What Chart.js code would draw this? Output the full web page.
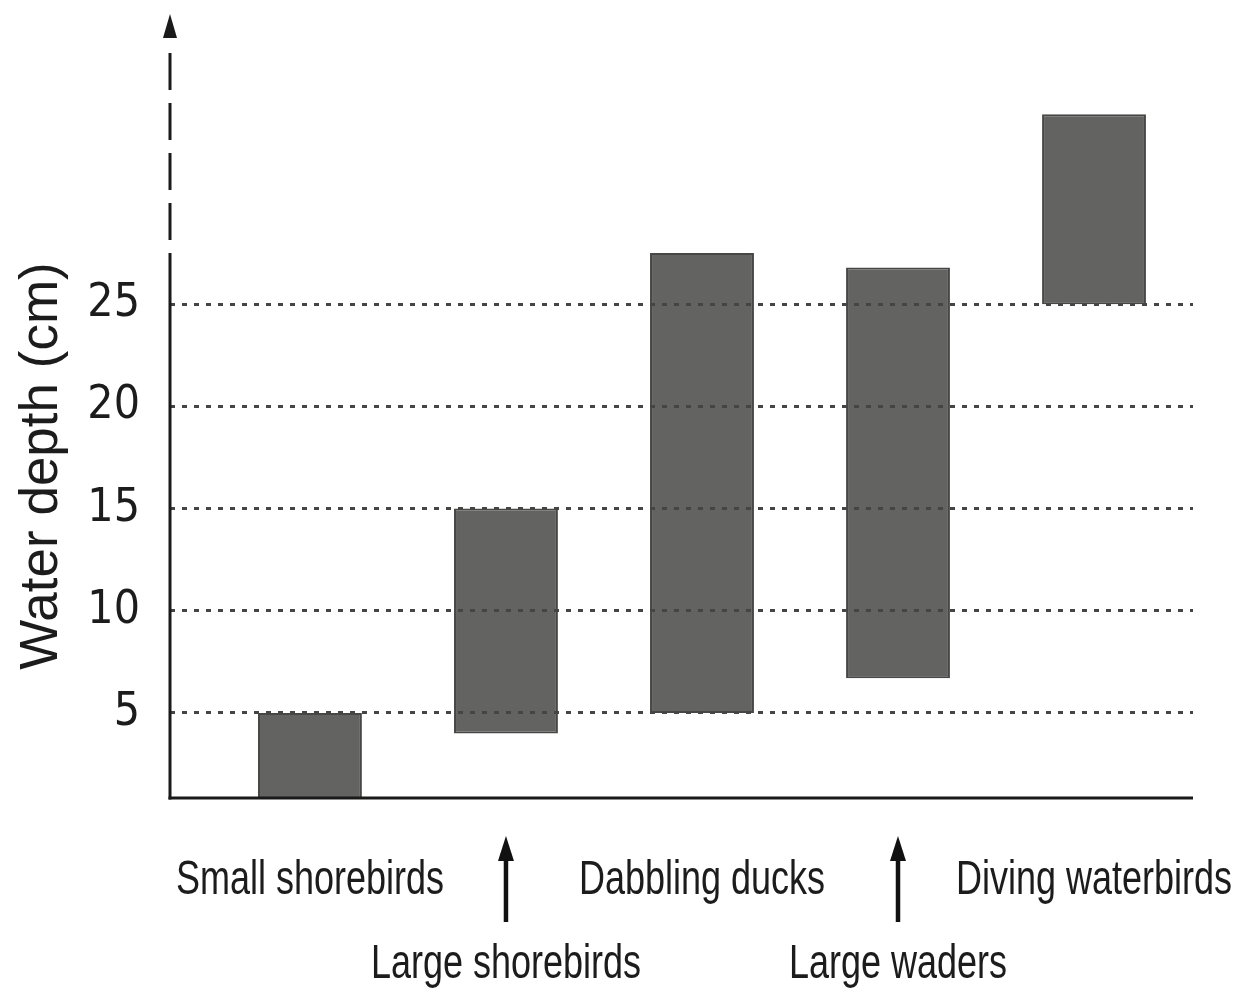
<!DOCTYPE html>
<html>
<head>
<meta charset="utf-8">
<title>Water depth used by waterbird groups</title>
<script src="https://cdn.jsdelivr.net/npm/chart.js@4.4.1/dist/chart.umd.min.js"></script>
<style>
  html, body { margin: 0; padding: 0; background: #fff; }
  #wrap { width: 1237px; height: 992px; position: relative; }
</style>
</head>
<body>
<div id="wrap"><canvas id="depthChart"></canvas></div>
<script>
// bird groups, left to right
const groups = ['Small shorebirds', 'Large shorebirds', 'Dabbling ducks', 'Large waders', 'Diving waterbirds'];
// depth range each group uses (cm)
const depthLow = [0, 4, 5, 6.7, 25];
const depthHigh = [5, 15, 27.5, 26.8, 34.3];
const yTicks = [5, 10, 15, 20, 25];
const yTitle = 'Water depth (cm)';
// axis goes dashed above this depth
const solidAxisTop = 27.5;

const sans = "'Liberation Sans', Arial, sans-serif";
const narrow = "'DejaVu Sans Condensed', 'Liberation Sans Narrow', sans-serif";
const ink = '#1c1c1c';

// axis lines, arrows, y title and the staggered group labels
const axisDecor = {
    id: 'axisDecor',
    afterDraw(chart) {
        const ctx = chart.ctx;
        const area = chart.chartArea;
        const xs = chart.scales.x;
        const ys = chart.scales.y;
        const ax = area.left;

        ctx.save();
        ctx.strokeStyle = '#1a1a1a';
        ctx.fillStyle = '#1a1a1a';
        ctx.lineWidth = 3;

        // x axis
        ctx.beginPath();
        ctx.moveTo(ax - 1.5, area.bottom);
        ctx.lineTo(area.right, area.bottom);
        ctx.stroke();

        // y axis, solid part then dashed
        const yBreak = ys.getPixelForValue(solidAxisTop);
        ctx.beginPath();
        ctx.moveTo(ax, area.bottom + 1.5);
        ctx.lineTo(ax, yBreak);
        ctx.stroke();

        ctx.setLineDash([37, 13]);
        ctx.beginPath();
        ctx.moveTo(ax, yBreak - 13);
        ctx.lineTo(ax, area.top + 38);
        ctx.stroke();
        ctx.setLineDash([]);

        ctx.beginPath();
        ctx.moveTo(ax, area.top);
        ctx.lineTo(ax - 7, area.top + 24);
        ctx.lineTo(ax + 7, area.top + 24);
        ctx.closePath();
        ctx.fill();

        // y title
        ctx.save();
        ctx.translate(42, area.bottom - 332);
        ctx.rotate(-Math.PI / 2);
        ctx.fillStyle = ink;
        ctx.font = '53px ' + sans;
        ctx.textAlign = 'center';
        ctx.textBaseline = 'middle';
        ctx.fillText(yTitle, 0, 0);
        ctx.restore();

        // group labels, every second one on a lower row with an arrow
        groups.forEach(function (name, i) {
            const px = xs.getPixelForValue(i);
            const low = i % 2 === 1;

            ctx.save();
            ctx.translate(px, area.bottom + (low ? 180 : 96));
            ctx.scale(0.75, 1);
            ctx.fillStyle = ink;
            ctx.font = '48px ' + sans;
            ctx.textAlign = 'center';
            ctx.textBaseline = 'alphabetic';
            ctx.fillText(name, 0, 0);
            ctx.restore();

            if (low) {
                ctx.strokeStyle = '#111';
                ctx.fillStyle = '#111';
                ctx.lineWidth = 4.5;
                ctx.beginPath();
                ctx.moveTo(px, area.bottom + 124);
                ctx.lineTo(px, area.bottom + 58);
                ctx.stroke();
                ctx.beginPath();
                ctx.moveTo(px, area.bottom + 38);
                ctx.lineTo(px - 8, area.bottom + 63);
                ctx.lineTo(px + 8, area.bottom + 63);
                ctx.closePath();
                ctx.fill();
            }
        });
        ctx.restore();
    }
};

const ctx = document.getElementById('depthChart').getContext('2d');
const chart = new Chart(ctx, {
    type: 'bar',
    data: {
        datasets: [{
            label: 'Depth range',
            data: groups.map((g, i) => ({ x: i, y: [depthLow[i], depthHigh[i]] })),
            backgroundColor: '#636361',
            borderColor: '#474745',
            borderWidth: 2,
            borderSkipped: false,
            barPercentage: 0.53,
            categoryPercentage: 1
        }]
    },
    options: {
        responsive: true,
        maintainAspectRatio: false,
        animation: false,
        layout: {
            padding: { left: 0, right: 44, top: 14, bottom: 194 }
        },
        plugins: {
            legend: { display: false },
            tooltip: { enabled: false }
        },
        scales: {
            x: {
                type: 'linear',
                display: false,
                offset: false,
                min: -0.714,
                max: 4.505,
                afterBuildTicks: function (scale) {
                    scale.ticks = groups.map((g, i) => ({ value: i }));
                }
            },
            y: {
                min: 0.84,
                max: 39.2,
                afterBuildTicks: function (scale) {
                    scale.ticks = yTicks.map(v => ({ value: v }));
                },
                afterFit: function (scale) {
                    scale.width = 170;
                    scale.paddingTop = 0;
                    scale.paddingBottom = 0;
                },
                grid: {
                    z: 1,
                    color: '#454544',
                    lineWidth: 3,
                    drawTicks: false
                },
                border: {
                    display: false,
                    dash: [5, 7]
                },
                ticks: {
                    padding: 30,
                    color: ink,
                    font: { family: narrow, size: 46 }
                }
            }
        }
    },
    plugins: [axisDecor]
});
</script>
</body>
</html>
